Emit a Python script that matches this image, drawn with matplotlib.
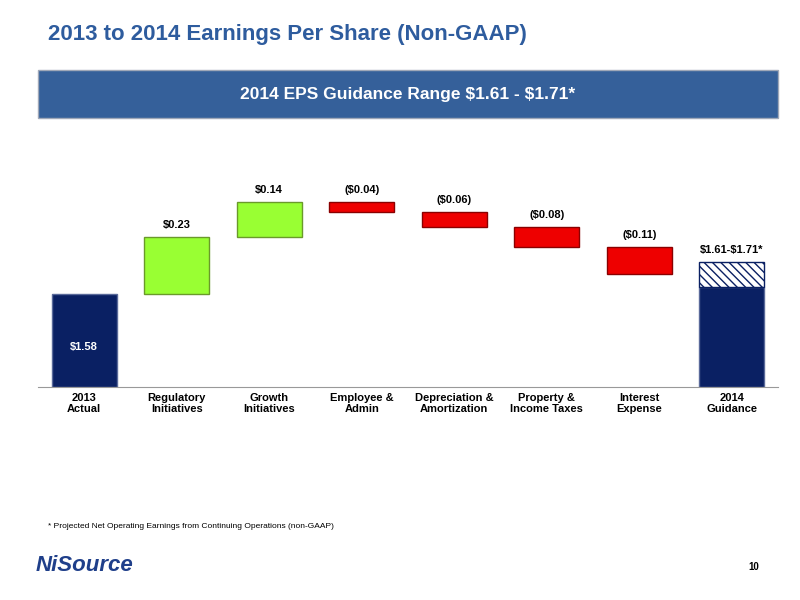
import matplotlib
matplotlib.use("Agg")
import matplotlib.pyplot as plt
from matplotlib.patches import Rectangle

plt.rcParams["text.parse_math"] = False

categories = ["2013\nActual", "Regulatory\nInitiatives", "Growth\nInitiatives", "Employee &\nAdmin",
              "Depreciation &\nAmortization", "Property &\nIncome Taxes", "Interest\nExpense", "2014\nGuidance"]
start_value = 1.58
changes = [0.23, 0.14, -0.04, -0.06, -0.08, -0.11]
change_labels = ["$0.23", "$0.14", "($0.04)", "($0.06)", "($0.08)", "($0.11)"]
guide_low, guide_high = 1.61, 1.71

fig = plt.figure(figsize=(8, 6), dpi=100)
fig.patch.set_facecolor("white")

fig.text(0.06, 0.942, "2013 to 2014 Earnings Per Share (Non-GAAP)", color="#2E5C9E",
         fontsize=16, fontweight="bold", va="center", family="Liberation Sans")
fig.patches.append(Rectangle((0.0475, 0.803), 0.925, 0.08, transform=fig.transFigure,
                             facecolor="#35609A", edgecolor="#A0A8B8", lw=1))
fig.text(0.51, 0.843, "2014 EPS Guidance Range $1.61 - $1.71*", color="white",
         fontsize=12.5, fontweight="bold", ha="center", va="center", family="Liberation Sans")

ax = fig.add_axes([0.0475, 0.355, 0.925, 0.33])
base = 1.21
ax.set_ylim(base, 2.0)
ax.set_xlim(-0.5, 7.5)
w = 0.7
lbl = dict(ha="center", fontsize=8, fontweight="bold", family="Liberation Sans")

ax.bar(0, start_value - base, bottom=base, width=w, color="#0A2063", edgecolor="#5A6A9A", lw=1)
ax.text(0, 1.37, "$1.58", color="white", va="center", **lbl)

level = start_value
for i, (c, t) in enumerate(zip(changes, change_labels), start=1):
    lo = level if c > 0 else level + c
    if c > 0:
        ax.bar(i, c, bottom=lo, width=w, color="#99FF33", edgecolor="#6A9A2A", lw=1)
    else:
        ax.bar(i, -c, bottom=lo, width=w, color="#EE0000", edgecolor="#8A0000", lw=1)
    ax.text(i, lo + abs(c) + 0.025, t, va="bottom", **lbl)
    level += c

ax.bar(7, guide_low - base, bottom=base, width=w, color="#0A2063", edgecolor="#5A6A9A", lw=1)
ax.bar(7, guide_high - guide_low, bottom=guide_low, width=w, color="white",
       edgecolor="#0A2063", hatch="\\\\\\\\", lw=1)
ax.text(7, guide_high + 0.025, "$1.61-$1.71*", va="bottom", **lbl)

ax.set_yticks([])
ax.set_xticks(range(8))
ax.set_xticklabels(categories, fontsize=8, fontweight="bold", family="Liberation Sans")
ax.tick_params(axis="x", length=0, pad=4)
for s in ["top", "right", "left"]:
    ax.spines[s].set_visible(False)
ax.spines["bottom"].set_color("#999999")

fig.text(0.06, 0.12, "* Projected Net Operating Earnings from Continuing Operations (non-GAAP)",
         fontsize=6, family="Liberation Sans")
fig.text(0.045, 0.058, "NiSource", fontsize=16, fontweight="bold", fontstyle="italic",
         color="#1F3F8A", family="Liberation Sans", va="center")
fig.text(0.935, 0.05, "10", fontsize=7, fontweight="bold", family="Liberation Sans")

fig.savefig("out.png", dpi=100)
